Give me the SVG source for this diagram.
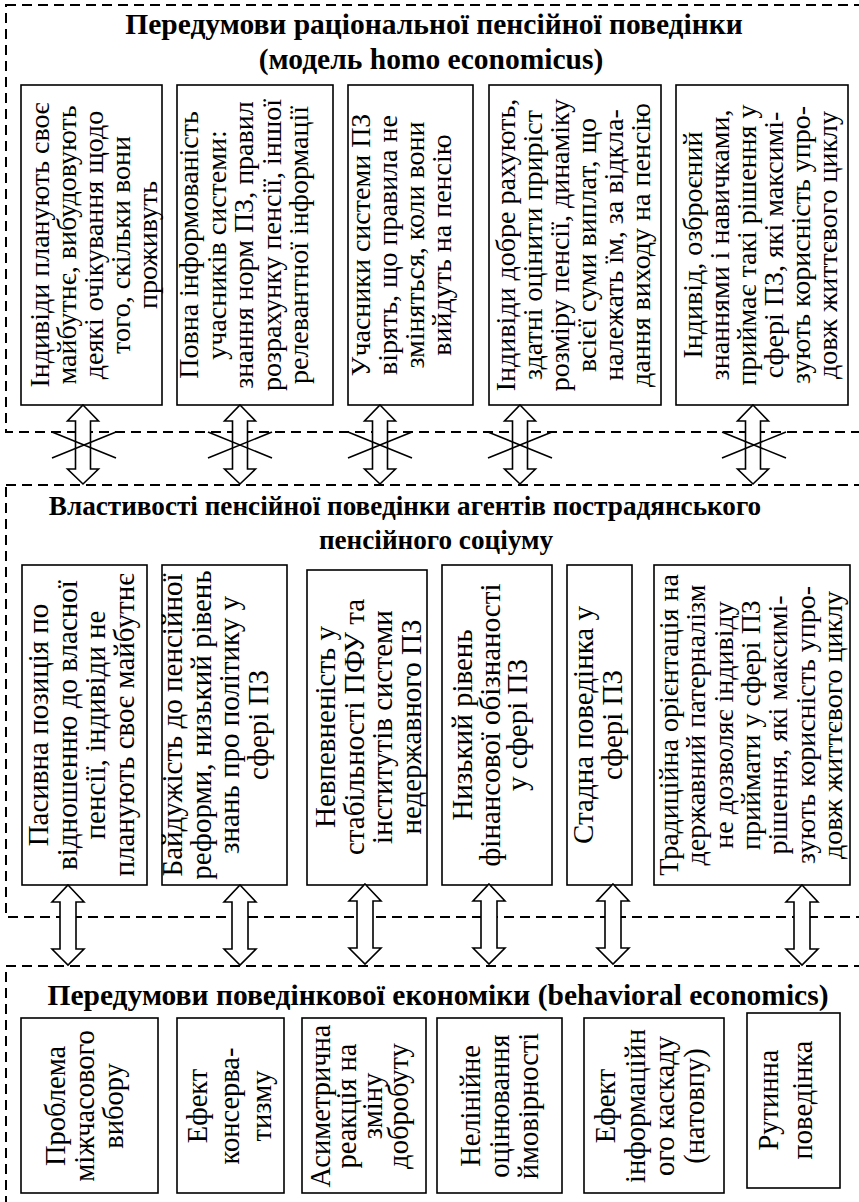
<svg xmlns="http://www.w3.org/2000/svg" xmlns:xlink="http://www.w3.org/1999/xlink" width="859" height="1202" viewBox="0 0 859 1202">
<style>
.dash{fill:none;stroke:#000;stroke-width:2;stroke-dasharray:10 6}
.box{fill:#fff;stroke:#000;stroke-width:1.6}
.t{font-family:"Liberation Serif","Times New Roman",serif;fill:#000;text-anchor:middle}
.ttl{font-family:"Liberation Serif","Times New Roman",serif;font-weight:bold;font-size:29.5px;fill:#000;text-anchor:middle}
.ttl2{font-size:27.2px}
.f28{font-size:28px}
.f29{font-size:29px}
.f30{font-size:28.5px}
.arr{fill:#fff;stroke:#000;stroke-width:1.6;stroke-linejoin:miter}
.x{stroke:#000;stroke-width:1.6}
</style>
<defs>
<path id="a1" d="M0,0 L15.5,16 L7.5,16 L7.5,64 L15.5,64 L0,79 L-15.5,64 L-7.5,64 L-7.5,16 L-15.5,16 Z"/>
<path id="a2" d="M0,0 L16,17 L8,17 L8,64 L16,64 L0,80 L-16,64 L-8,64 L-8,17 L-16,17 Z"/>
</defs>

<g id="group-rational">
<rect class="dash" x="6" y="5" width="870" height="427"/>
<text class="ttl" x="434" y="34">Передумови раціональної пенсійної поведінки</text>
<text class="ttl" x="431" y="69">(модель homo economicus)</text>
</g>
<g id="r1"><rect class="box" x="21" y="85" width="141" height="320"/>
<text class="t f28" transform="translate(49,245) rotate(-90)"><tspan x="0" y="0">Індивіди планують своє</tspan><tspan x="0" dy="27">майбутнє, вибудовують</tspan><tspan x="0" dy="27">деякі очікування щодо</tspan><tspan x="0" dy="27">того, скільки вони</tspan><tspan x="0" dy="27">проживуть</tspan></text></g>
<g id="r2"><rect class="box" x="177" y="85" width="156" height="320"/>
<text class="t f28" transform="translate(198,245) rotate(-90)"><tspan x="0" y="0">Повна інформованість</tspan><tspan x="0" dy="27.5">учасників системи:</tspan><tspan x="0" dy="27.5">знання норм ПЗ, правил</tspan><tspan x="0" dy="27.5">розрахунку пенсії, іншої</tspan><tspan x="0" dy="27.5">релевантної інформації</tspan></text></g>
<g id="r3"><rect class="box" x="348" y="85" width="125" height="320"/>
<text class="t f28" transform="translate(370,245) rotate(-90)"><tspan x="0" y="0">Учасники системи ПЗ</tspan><tspan x="0" dy="27">вірять, що правила не</tspan><tspan x="0" dy="27">зміняться, коли вони</tspan><tspan x="0" dy="27">вийдуть на пенсію</tspan></text></g>
<g id="r4"><rect class="box" x="489" y="85" width="172" height="320"/>
<text class="t f28" transform="translate(515,245) rotate(-90)"><tspan x="0" y="0">Індивіди добре рахують,</tspan><tspan x="0" dy="27">здатні оцінити приріст</tspan><tspan x="0" dy="27">розміру пенсії, динаміку</tspan><tspan x="0" dy="27">всієї суми виплат, що</tspan><tspan x="0" dy="27">належать їм, за відкла-</tspan><tspan x="0" dy="27">дання виходу на пенсію</tspan></text></g>
<g id="r5"><rect class="box" x="676" y="85" width="172" height="320"/>
<text class="t f28" transform="translate(702,245) rotate(-90)"><tspan x="0" y="0">Індивід, озброєний</tspan><tspan x="0" dy="27">знаннями і навичками,</tspan><tspan x="0" dy="27">приймає такі рішення у</tspan><tspan x="0" dy="27">сфері ПЗ, які максимі-</tspan><tspan x="0" dy="27">зують корисність упро-</tspan><tspan x="0" dy="27">довж життєвого циклу</tspan></text></g>

<g id="group-post-soviet">
<rect class="dash" x="6" y="485" width="870" height="432"/>
<text class="ttl ttl2" x="405" y="515">Властивості пенсійної поведінки агентів пострадянського</text>
<text class="ttl ttl2" x="436" y="549">пенсійного соціуму</text>
</g>
<g id="m1"><rect class="box" x="22" y="565" width="125" height="320"/>
<text class="t f29" transform="translate(48,725) rotate(-90)"><tspan x="0" y="0">Пасивна позиція по</tspan><tspan x="0" dy="28.5">відношенню до власної</tspan><tspan x="0" dy="28.5">пенсії, індивіди не</tspan><tspan x="0" dy="28.5">планують своє майбутнє</tspan></text></g>
<g id="m2"><rect class="box" x="162" y="565" width="125" height="320"/>
<text class="t f29" transform="translate(182,725) rotate(-90)"><tspan x="0" y="0">Байдужість до пенсійної</tspan><tspan x="0" dy="28.5">реформи, низький рівень</tspan><tspan x="0" dy="28.5">знань про політику у</tspan><tspan x="0" dy="28.5">сфері ПЗ</tspan></text></g>
<g id="m3"><rect class="box" x="307" y="570" width="120" height="315"/>
<text class="t f29" transform="translate(335,727) rotate(-90)"><tspan x="0" y="0">Невпевненість у</tspan><tspan x="0" dy="28.5">стабільності ПФУ та</tspan><tspan x="0" dy="28.5">інститутів системи</tspan><tspan x="0" dy="28.5">недержавного ПЗ</tspan></text></g>
<g id="m4"><rect class="box" x="442" y="565" width="110" height="320"/>
<text class="t f29" transform="translate(472,725) rotate(-90)"><tspan x="0" y="0">Низький рівень</tspan><tspan x="0" dy="27.5">фінансової обізнаності</tspan><tspan x="0" dy="27.5">у сфері ПЗ</tspan></text></g>
<g id="m5"><rect class="box" x="567" y="565" width="65" height="320"/>
<text class="t f29" transform="translate(593,725) rotate(-90)"><tspan x="0" y="0">Стадна поведінка у</tspan><tspan x="0" dy="29">сфері ПЗ</tspan></text></g>
<g id="m6"><rect class="box" x="654" y="565" width="196" height="320"/>
<text class="t f28" transform="translate(678,725) rotate(-90)"><tspan x="0" y="0">Традиційна орієнтація на</tspan><tspan x="0" dy="27.3">державний патерналізм</tspan><tspan x="0" dy="27.3">не дозволяє індивіду</tspan><tspan x="0" dy="27.3">приймати у сфері ПЗ</tspan><tspan x="0" dy="27.3">рішення, які максимі-</tspan><tspan x="0" dy="27.3">зують корисність упро-</tspan><tspan x="0" dy="27.3">довж життєвого циклу</tspan></text></g>

<g id="group-behavioral">
<rect class="dash" x="6" y="966" width="870" height="250"/>
<text class="ttl" x="438" y="1005">Передумови поведінкової економіки (behavioral economics)</text>
</g>
<g id="b1"><rect class="box" x="21" y="1018" width="137" height="175"/>
<text class="t f30" transform="translate(65,1106) rotate(-90)"><tspan x="0" y="0">Проблема</tspan><tspan x="0" dy="29">міжчасового</tspan><tspan x="0" dy="29">вибору</tspan></text></g>
<g id="b2"><rect class="box" x="177" y="1018" width="107" height="175"/>
<text class="t f30" transform="translate(207,1106) rotate(-90)"><tspan x="0" y="0">Ефект</tspan><tspan x="0" dy="32">консерва-</tspan><tspan x="0" dy="32">тизму</tspan></text></g>
<g id="b3"><rect class="box" x="302" y="1018" width="124" height="175"/>
<text class="t f30" transform="translate(330,1106) rotate(-90)"><tspan x="0" y="0">Асиметрична</tspan><tspan x="0" dy="26">реакція на</tspan><tspan x="0" dy="26">зміну</tspan><tspan x="0" dy="26">добробуту</tspan></text></g>
<g id="b4"><rect class="box" x="437" y="1018" width="125" height="175"/>
<text class="t f30" transform="translate(480,1106) rotate(-90)"><tspan x="0" y="0">Нелінійне</tspan><tspan x="0" dy="29">оцінювання</tspan><tspan x="0" dy="29">ймовірності</tspan></text></g>
<g id="b5"><rect class="box" x="584" y="1018" width="140" height="175"/>
<text class="t f30" transform="translate(615,1106) rotate(-90)"><tspan x="0" y="0">Ефект</tspan><tspan x="0" dy="29.5">інформаційн</tspan><tspan x="0" dy="29.5">ого каскаду</tspan><tspan x="0" dy="29.5">(натовпу)</tspan></text></g>
<g id="b6"><rect class="box" x="747" y="1013" width="93" height="175"/>
<text class="t f30" transform="translate(778,1100) rotate(-90)"><tspan x="0" y="0">Рутинна</tspan><tspan x="0" dy="34">поведінка</tspan></text></g>

<g id="connectors">
<use xlink:href="#a1" class="arr" x="83" y="405"/>
<use xlink:href="#a1" class="arr" x="240" y="405"/>
<use xlink:href="#a1" class="arr" x="380" y="405"/>
<use xlink:href="#a1" class="arr" x="520" y="405"/>
<use xlink:href="#a1" class="arr" x="753" y="405"/>
<path class="x" d="M52,432 L116,458 M52,458 L116,432"/>
<path class="x" d="M208,432 L272,458 M208,458 L272,432"/>
<path class="x" d="M348,432 L412,458 M348,458 L412,432"/>
<path class="x" d="M488,432 L552,458 M488,458 L552,432"/>
<path class="x" d="M722,432 L786,458 M722,458 L786,432"/>
<use xlink:href="#a2" class="arr" x="68" y="885"/>
<use xlink:href="#a2" class="arr" x="240" y="885"/>
<use xlink:href="#a2" class="arr" x="365" y="884"/>
<use xlink:href="#a2" class="arr" x="489" y="884"/>
<use xlink:href="#a2" class="arr" x="613" y="884"/>
<use xlink:href="#a2" class="arr" x="802" y="885"/>
</g>
</svg>
